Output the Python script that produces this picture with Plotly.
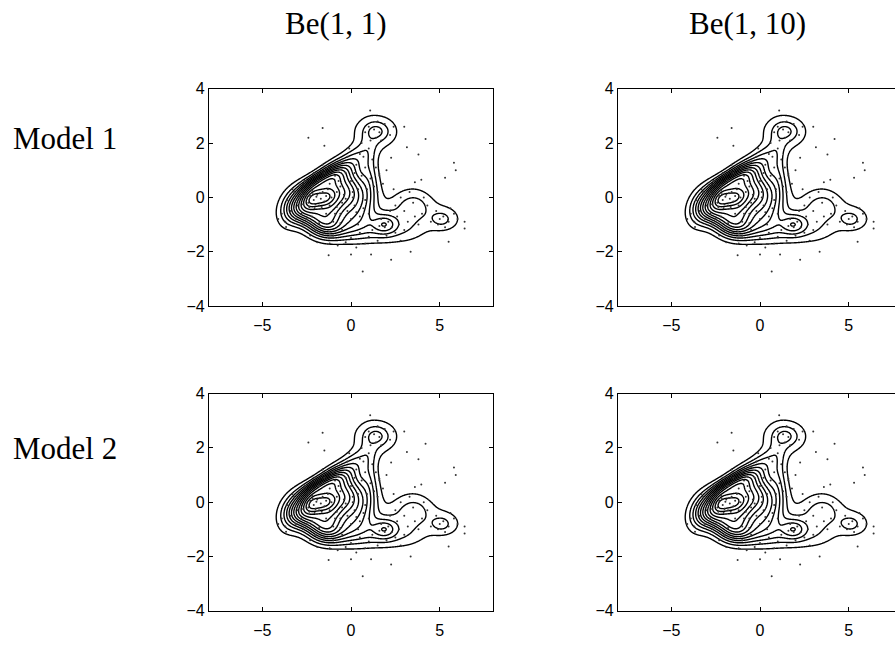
import numpy as np
import plotly.graph_objects as go

col_titles = ["Be(1, 1)", "Be(1, 10)"]
row_titles = ["Model 1", "Model 2"]
x_ticks = [-5, 0, 5]
y_ticks = [-4, -2, 0, 2, 4]

# ---- contour readings from the picture: position and contour level (1 = outermost, 13 = innermost)
lev_x = [0.28, 0.66, 1.32, 2.07, 2.59, 2.63, 2.35, 1.97, 1.88, 2.16, 2.82, 3.76, 4.7, 5.45, 6.01, 6.1, 5.82, 5.07,
         4.32, 3.76, 3.01, 2.07, 1.13, 0.0, -1.13, -2.25, -3.19, -3.85, -4.13, -4.04, -3.66, -3.0, -2.25, -1.5, -0.6, 0.0, -1.83, -1.83,
         -1.83, -2.35, -1.31, -1.83, -1.83,
         -2.77, -3.22, -3.68, -2.16, -2.31, -2.45, -1.83, -1.83, -1.83, -1.83, -1.83, -1.83, -2.34, -2.62, -2.91,
         0.0, 0.0, 0.0, 0.0, 0.0, 0.0, 0.0, 0.0, 0.0, 0.0, 0.0, 0.0,
         -1.0, -0.5, 0.5, 1.0, 1.4,
         1.9, 1.5, 2.3, 1.9, 1.9, 2.72, 1.9, 1.9,
         1.45, 1.13, 1.78, 1.45, 1.45, 0.55, 2.1, 1.35, 1.35, 1.1, 1.3, 1.6,
         -4.5, -4.2, -3.4, -3.4, -2.5, -1.2,
         -5.2, -4.2, -3.2, -1.8, -0.5, 0.5, 2.0, 0.0, -2.0, -4.0, -5.5]
lev_y = [2.53, 2.83, 2.99, 2.95, 2.65, 2.29, 1.99, 1.76, 1.34, 0.86, 0.38, 0.17, -0.07, -0.39, -0.63, -0.87, -1.11, -1.2,
         -1.27, -1.41, -1.65, -1.83, -1.89, -1.91, -1.83, -1.65, -1.31, -0.93, -0.45, -0.16, 0.14, 0.62, 1.04, 1.46, 1.83, 2.05, 1.28, -1.75,
         -0.04, -0.04, -0.04, 0.2, -0.28,
         -0.21, -0.29, -0.37, 0.35, 0.52, 0.68, 0.47, 0.74, 1.01, -0.65, -1.02, -1.38, -0.52, -0.79, -1.05,
         1.79, 1.57, 1.4, 1.22, 0.98, 0.74, 0.0, -0.87, -1.05, -1.23, -1.41, -1.59,
         -0.05, -0.05, -0.15, -0.3, -0.5,
         -0.99, -0.99, -0.99, -0.83, -1.15, -0.95, -1.36, -0.57,
         2.44, 2.44, 2.44, 2.59, 2.29, 2.4, 2.4, 2.83, 1.96, 1.0, 0.3, 1.2,
         -0.45, -1.15, -1.6, 0.9, 1.35, 2.05,
         -0.4, 0.8, 1.6, 2.4, 2.9, 3.5, 3.6, -2.7, -2.5, -1.8, -1.0]
lev_z = [1] * 38 + [13.7, 13, 13, 13, 13,
                    10, 7, 4, 10, 7, 4, 10, 7, 4, 10, 7, 4, 10, 7, 4,
                    2, 3, 4, 5, 6, 7, 8.5, 6, 5, 4, 3, 2,
                    12, 10.5, 6.5, 4.5, 3.3,
                    4.4, 4, 4, 4, 4, 3, 3, 3,
                    3.4, 3, 3, 3, 3, 2, 2, 2, 2, 2.6, 2.8, 1.4,
                    0.3, 0.3, 0.3, 0.3, 0.3, 0.3] + [0] * 11

# ---- fixed bumps for the secondary peaks and the right-hand shelf (centre, spread, correlation, height)
peak_mx = [1.9, 1.9, 1.4, 1.45, 1.05, 3.3, 3.8, 5.1, 5.07, 5.6, 3.6, 3.2]
peak_my = [-0.99, -0.95, 2.42, 2.44, 1.0, -0.55, -0.35, -0.78, -0.81, -0.8, -0.1, -1.3]
peak_sx = [0.45, 0.8, 0.9, 0.38, 0.35, 0.8, 0.45, 0.8, 0.38, 0.6, 1.0, 0.9]
peak_sy = [0.25, 0.45, 0.45, 0.2, 0.8, 0.6, 0.25, 0.4, 0.2, 0.35, 0.35, 0.3]
peak_rho = [0.0, 0.0, 0.0, 0.0, 0.0, 0.1, 0.0, 0.0, 0.0, 0.0, 0.0, 0.0]
peak_h = [2.4, 1.2, 2.3, 1.1, 1.5, 1.9, 0.35, 1.2, 0.85, 0.4, 0.6, 0.5]

# ---- bumps of the main mass, heights fitted to the contour readings
comp_mx = [-2.2, -1.5, -1.9, -0.9, -0.3, 0.4, -0.6, -0.5, 0.6, 0.3, -3.2, -2.6, -1.2, -2.0, -2.2, -1.0, 0.0, -1.3]
comp_my = [-0.05, 0.0, 0.0, 0.15, 0.2, -0.2, 0.9, -0.9, -1.25, 1.5, -0.3, -0.1, -0.5, 0.5, -0.7, 0.8, -0.7, -1.15]
comp_sx = [0.4, 0.45, 0.8, 0.6, 0.7, 0.7, 0.8, 1.3, 1.2, 0.6, 0.6, 0.5, 0.6, 0.6, 0.7, 0.6, 0.8, 0.7]
comp_sy = [0.25, 0.28, 0.45, 0.45, 0.55, 0.6, 0.4, 0.4, 0.35, 0.35, 0.5, 0.4, 0.4, 0.3, 0.35, 0.35, 0.45, 0.3]
comp_rho = [0.2, 0.3, 0.5, 0.4, 0.4, 0.2, 0.5, 0.0, 0.0, 0.4, 0.3, 0.3, 0.0, 0.6, -0.3, 0.5, 0.0, 0.0]
comp_h0 = [3.0, 3.0, 4.0, 2.5, 2.0, 1.5, 1.0, 1.2, 0.8, 0.5, 1.0, 1.5, 1.5, 1.0, 1.0, 1.0, 1.0, 0.8]
n_levels = 13

# ---- sample points
pts_x = [-2.3, -2.1, -1.9, -1.7, -2.0, -2.4, -1.6, -1.8, -2.2, -1.5, -2.6, -2.5, -1.95, -2.15, -1.75, -1.4, -2.05, -2.35, -1.65, -2.7,
         -3.2, -3.0, -2.9, -3.4, -2.8, -3.1, -2.6, -3.6, -2.9, -3.3, -3.7, -3.9, -2.5, -2.2, -2.7,
         -1.2, -0.9, -0.6, -0.3, 0.0, 0.3, -0.5, -1.0, -1.5, -0.2, 0.4, -0.8, 0.1, -1.3, -0.4, 0.2, -0.7, -1.8, -2.1, -1.6, -0.1, 0.5, 0.6,
         -1.2, -0.9, -0.5, -0.2, 0.2, 0.5, 0.8, -1.0, -0.6, 0.0, 0.4, -1.4, -0.3, 0.7, 1.0, -0.8, 0.1, -1.1, -0.6, 0.3,
         -2.0, -1.5, -1.0, -0.5, 0.0, 0.5, 1.0, 1.5, 2.0, 2.5, -1.8, -0.3, 0.8, 1.2, 2.3, 1.7, 1.9, 2.1, 1.6, 2.6, -2.3, -1.2, 0.3, 2.8,
         0.9, 1.1, 0.8, 1.2, 1.0, 1.4, 0.7, 1.3, 1.6, 0.6, 1.1, 1.5, 1.8, 2.0,
         1.3, 1.6, 1.0, 1.9, 2.2, 1.5, 0.8, 1.4, 2.4, 1.7,
         2.5, 3.0, 3.5, 4.0, 3.2, 2.8, 3.8, 4.3, 2.2, 3.6, 2.7, 4.5, 3.3, 2.4, 4.1, 3.0,
         5.0, 5.2, 4.8, 5.5, 5.8, 5.3, 4.9, 5.6, 6.0,
         1.08, -1.6, -2.4, -1.5, 3.0, 4.2, 3.15, 3.8, 5.8, 5.9, 5.3, 3.96, 3.6, 2.26, 1.6, 6.4, 6.4, 5.5, 3.36, 2.26, 1.13, 0.66, 0.0, -1.26, -0.75, -1.9, -3.66, -4.1]
pts_y = [0.05, -0.1, 0.1, -0.05, -0.25, -0.2, 0.2, -0.3, 0.25, -0.15, 0.1, -0.05, 0.02, 0.12, 0.15, 0.05, -0.4, -0.35, -0.35, -0.25,
         0.2, -0.3, 0.45, -0.5, -0.6, -0.8, 0.6, -0.1, 0.0, 0.3, -0.9, -0.6, -0.8, -0.7, -1.0,
         0.5, 0.8, 0.4, 0.9, 0.6, 1.2, 1.3, 1.1, 0.9, 1.5, 0.3, 0.2, 0.2, 0.3, 0.1, 0.9, 0.6, 0.6, 0.9, 1.2, 1.8, 1.6, 0.8,
         -0.3, -0.6, -0.2, -0.5, -0.3, -0.7, -0.1, -0.9, -0.95, -0.8, -1.0, -0.6, -0.05, -0.4, -0.6, -0.35, 0.0, 0.0, -0.6, -0.55,
         -1.2, -1.3, -1.4, -1.2, -1.5, -1.3, -1.45, -1.6, -1.4, -1.3, -0.95, -1.65, -1.7, -1.2, -1.1, -0.8, -1.1, -0.9, -1.05, -0.7, -1.4, -1.7, -1.85, -1.6,
         0.3, 0.7, 1.1, 1.4, 1.8, 1.1, 1.5, 0.4, 0.8, 2.0, 2.1, 0.2, 0.5, 1.0,
         2.5, 2.4, 2.6, 2.7, 2.3, 2.8, 2.4, 2.2, 2.6, 2.1,
         -0.3, -0.5, -0.2, -0.6, -0.9, 0.0, -1.0, -0.3, -0.5, -0.7, -1.0, -0.9, 0.2, 0.3, 0.0, -1.2,
         -0.8, -0.7, -0.5, -0.9, -0.6, -1.1, -1.0, -0.4, -0.8,
         3.2, 2.56, 2.2, 1.9, 2.6, 2.15, 1.85, 1.58, 1.28, 1.0, 0.72, 0.65, 0.56, 1.46, 0.86, -0.9, -1.15, -1.63, -2.0, -2.3, -2.1, -2.73, -2.1, -2.13, -1.77, -1.65, -1.09, -0.8]


def bump(x, y, mx, my, sx, sy, r):
    dx = (x - mx) / sx
    dy = (y - my) / sy
    return np.exp(-0.5 * (dx * dx - 2 * r * dx * dy + dy * dy) / (1 - r * r))


def nnls(A, b, maxiter=3000):
    n = A.shape[1]
    P = np.zeros(n, bool)
    x = np.zeros(n)
    w = A.T @ (b - A @ x)
    it = 0
    while (~P).any() and np.max(np.where(P, -np.inf, w)) > 1e-10 and it < maxiter:
        j = int(np.argmax(np.where(P, -np.inf, w)))
        P[j] = True
        while True:
            it += 1
            s = np.zeros(n)
            s[P] = np.linalg.lstsq(A[:, P], b, rcond=None)[0]
            if s[P].min() > 0 or it > maxiter:
                break
            mask = P & (s <= 0)
            alpha = np.min(x[mask] / (x[mask] - s[mask]))
            x = x + alpha * (s - x)
            P &= x > 1e-12
        x = s
        w = A.T @ (b - A @ x)
    return x


fixed = list(zip(peak_mx, peak_my, peak_sx, peak_sy, peak_rho))
free = list(zip(comp_mx, comp_my, comp_sx, comp_sy, comp_rho))

tx, ty, tz = np.array(lev_x), np.array(lev_y), np.array(lev_z, dtype=float)
base_t = sum(hh * bump(tx, ty, *p) for p, hh in zip(fixed, peak_h))
wts = np.where(tz <= 0.4, 0.6, 1.0) * np.where(tx > 1.2, 0.3, 1.0)
A = np.stack([bump(tx, ty, *p) for p in free], axis=1)
lam = 0.02
h0 = np.array(comp_h0)
Aa = np.vstack([A * wts[:, None], np.sqrt(lam) * np.eye(len(h0))])
ba = np.concatenate([(tz - base_t) * wts, np.sqrt(lam) * h0])
h = nnls(Aa, ba)

gx = np.linspace(-8, 8, 481)
gy = np.linspace(-4, 4, 321)
GX, GY = np.meshgrid(gx, gy)
Z = np.zeros_like(GX)
for p, hh in zip(fixed, peak_h):
    Z += hh * bump(GX, GY, *p)
for p, hh in zip(free, h):
    Z += hh * bump(GX, GY, *p)

W, H = 895, 647
# panel boxes in pixels (left, right, top, bottom)
col_px = [(209, 493), (618, 895)]
row_px = [(83, 306), (396, 619)]
col_xrange = [[-8, 8], [-8, 16 * (895 - 618) / 284 - 8]]

fig = go.Figure()
layout = {}
n = 0
for r in range(2):
    for c in range(2):
        n += 1
        xa = "x" if n == 1 else f"x{n}"
        ya = "y" if n == 1 else f"y{n}"
        fig.add_trace(go.Contour(
            x=gx, y=gy, z=Z, xaxis=xa, yaxis=ya,
            contours=dict(start=1, end=n_levels + 1e-6, size=1, coloring="lines"),
            colorscale=[[0, "black"], [1, "black"]], showscale=False,
            line=dict(width=1.4, color="black"), hoverinfo="skip"))
        fig.add_trace(go.Scatter(
            x=pts_x, y=pts_y, xaxis=xa, yaxis=ya, mode="markers",
            marker=dict(size=2, color="#333333"), showlegend=False, hoverinfo="skip"))
        l, rr = col_px[c]
        t, b = row_px[r]
        key = "" if n == 1 else str(n)
        layout["xaxis" + key] = dict(
            domain=[l / W, rr / W], range=col_xrange[c], anchor=ya,
            tickvals=x_ticks, ticks="inside", ticklen=4, tickwidth=1, tickcolor="black",
            showline=True, linecolor="black", linewidth=1.3, mirror="ticks",
            showgrid=False, zeroline=False, ticklabelstandoff=5,
            tickfont=dict(family="Liberation Sans, Arial", size=16, color="black"))
        layout["yaxis" + key] = dict(
            domain=[1 - b / H, 1 - t / H], range=[-4, 4], anchor=xa,
            tickvals=y_ticks, ticks="inside", ticklen=4, tickwidth=1, tickcolor="black",
            showline=True, linecolor="black", linewidth=1.3, mirror=("ticks" if c == 0 else False),
            showgrid=False, zeroline=False,
            tickfont=dict(family="Liberation Sans, Arial", size=16, color="black"))

annotations = []
title_x = [336, 747]
for c in range(2):
    annotations.append(dict(text=col_titles[c], x=title_x[c] / W, y=1 - 16 / H, xref="paper", yref="paper",
                            xanchor="center", yanchor="middle", showarrow=False,
                            font=dict(family="Liberation Serif, Times New Roman", size=31, color="black")))
row_y = [134, 452]
for r in range(2):
    annotations.append(dict(text=row_titles[r], x=11 / W, y=1 - row_y[r] / H, xref="paper", yref="paper",
                            xanchor="left", yanchor="middle", showarrow=False,
                            font=dict(family="Liberation Serif, Times New Roman", size=31, color="black")))

fig.update_layout(width=W, height=H, margin=dict(l=0, r=0, t=0, b=0),
                  paper_bgcolor="white", plot_bgcolor="white", showlegend=False,
                  annotations=annotations, **layout)
fig.write_html("out.html", config={"displayModeBar": False},
               post_script="document.body.style.margin='0';")
